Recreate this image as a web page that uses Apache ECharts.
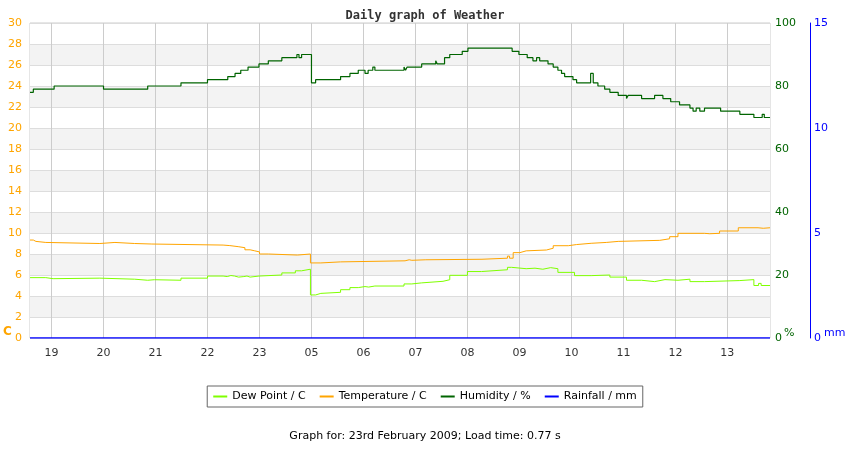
<!DOCTYPE html>
<html><head><meta charset="utf-8">
<script src="https://cdn.jsdelivr.net/npm/echarts@6/dist/echarts.min.js"></script>
<style>body{margin:0}#c{width:850px;height:450px}</style></head>
<body><div id="c"></div>
<script>
const hourTicks = [19,20,21,22,23,24,25,26,27,28,29,30,31,32];
const hourLabels = ['19','20','21','22','23','05','06','07','08','09','10','11','12','13'];
const xMin = 18.586, xMax = 32.82;

const humidity = [[18.586,78],[18.65,79],[19.05,80],[20.0,79],[20.85,80],[21.49,81],[22.0,82],[22.39,83],[22.53,84],[22.64,85],[22.78,86],[22.99,87],[23.17,88],[23.43,89],[23.72,90],[23.76,89],[23.81,90],[24.0,81],[24.08,82],[24.56,83],[24.74,84],[24.9,85],[25.03,84],[25.09,85],[25.18,86],[25.22,85],[25.78,86],[25.81,85],[25.84,86],[26.12,87],[26.39,88],[26.42,87],[26.56,89],[26.66,90],[26.9,91],[27.01,92],[27.86,91],[27.99,90],[28.15,89],[28.26,88],[28.33,89],[28.39,88],[28.55,87],[28.65,86],[28.74,85],[28.81,84],[28.87,83],[29.03,82],[29.1,81],[29.37,84],[29.42,81],[29.51,80],[29.64,79],[29.74,78],[29.9,77],[30.06,76],[30.09,77],[30.35,76],[30.6,77],[30.76,76],[30.91,75],[31.08,74],[31.28,73],[31.34,72],[31.4,73],[31.47,72],[31.56,73],[31.87,72],[32.24,71],[32.51,70],[32.67,71],[32.71,70],[32.82,70]];

const temperature = [[18.586,9.33],[18.65,9.2],[18.7,9.1],[18.89,9.0],[19.93,9.1],[20.22,9.0],[20.6,8.95],[20.93,8.85],[22.3,8.8],[22.43,8.7],[22.59,8.6],[22.72,8.4],[22.82,8.3],[22.91,8.2],[23.0,8.0],[23.17,7.9],[23.73,8.0],[23.98,7.15],[24.18,7.25],[24.56,7.35],[25.8,7.45],[25.88,7.4],[25.93,7.45],[26.2,7.5],[27.28,7.6],[27.77,7.8],[27.81,7.6],[27.88,8.13],[28.01,8.3],[28.13,8.38],[28.52,8.55],[28.65,8.79],[28.94,8.9],[29.1,9.02],[29.38,9.1],[29.67,9.2],[29.9,9.3],[30.7,9.45],[30.89,9.65],[31.05,9.97],[31.56,9.93],[31.66,9.97],[31.85,10.19],[32.21,10.5],[32.59,10.45],[32.69,10.5],[32.82,10.45]];

const dewPoint = [[18.586,5.75],[18.89,5.65],[19.03,5.7],[19.93,5.6],[20.6,5.5],[20.85,5.55],[20.98,5.5],[21.49,5.7],[22.0,5.9],[22.3,5.85],[22.38,5.95],[22.45,5.9],[22.52,5.8],[22.6,5.85],[22.7,5.9],[22.76,5.8],[22.82,5.9],[22.99,6.0],[23.43,6.2],[23.69,6.4],[23.81,6.55],[23.98,4.1],[24.08,4.25],[24.18,4.35],[24.56,4.6],[24.74,4.8],[24.9,4.9],[25.03,4.85],[25.1,4.95],[25.22,4.95],[25.78,5.15],[25.93,5.25],[26.12,5.4],[26.53,5.55],[26.66,5.97],[27.0,6.33],[27.27,6.5],[27.77,6.73],[27.85,6.6],[28.13,6.65],[28.3,6.55],[28.45,6.7],[28.6,6.6],[28.74,6.25],[29.06,5.94],[29.38,6.0],[29.74,5.8],[30.06,5.5],[30.35,5.37],[30.6,5.56],[30.8,5.5],[31.05,5.6],[31.28,5.37],[31.56,5.47],[32.24,5.56],[32.51,5.0],[32.6,5.2],[32.65,5.0],[32.82,5.0]];

const rainfall = [[18.586,0],[32.82,0]];

const chart = echarts.init(document.getElementById('c'));
const font = 'DejaVu Sans';
chart.setOption({
  animation:false,
  textStyle:{fontFamily:font},
  title:{text:'Daily graph of Weather',left:'center',top:5,textStyle:{fontFamily:'DejaVu Sans Mono',fontSize:12,fontWeight:'bold',color:'#333'}},
  grid:{left:30,right:80,top:23,bottom:112,show:true,borderColor:'#ccc',borderWidth:1,backgroundColor:'#fff'},
  legend:{bottom:43,left:'center',itemWidth:14,itemHeight:2,itemGap:14,borderColor:'#666',borderWidth:1,borderRadius:0,padding:[5,6],
    icon:'rect',textStyle:{fontSize:11,color:'#000'},
    data:['Dew Point / C','Temperature / C','Humidity / %','Rainfall / mm']},
  graphic:[
    {type:'text',left:'center',top:431,style:{text:'Graph for: 23rd February 2009; Load time: 0.77 s',font:'11px DejaVu Sans',fill:'#000'}},
    {type:'text',left:3,top:326,style:{text:'C',font:'bold 12px DejaVu Sans',fill:'#ffa500'}},
    {type:'text',left:784,top:328,style:{text:'%',font:'11px DejaVu Sans',fill:'#006400'}},
    {type:'text',left:824,top:328,style:{text:'mm',font:'11px DejaVu Sans',fill:'#0000ff'}}
  ],
  xAxis:{type:'value',min:xMin,max:xMax,
    axisLine:{show:false},
    axisTick:{show:false,customValues:hourTicks},
    axisLabel:{customValues:hourTicks,color:'#333',fontSize:11,margin:10,formatter:v=>hourLabels[hourTicks.indexOf(Math.round(v))]},
    splitLine:{show:true,lineStyle:{color:'#ccc'}}},
  yAxis:[
    {type:'value',min:0,max:30,interval:2,position:'left',
     axisLine:{show:false},axisTick:{show:false},
     axisLabel:{color:'#ffa500',fontSize:11,margin:8},
     splitLine:{lineStyle:{color:'#ddd'}},
     splitArea:{show:true,areaStyle:{color:['#ffffff','#f3f3f3']}}},
    {type:'value',min:0,max:100,interval:20,position:'right',
     axisLine:{show:false},axisTick:{show:false},
     axisLabel:{color:'#006400',fontSize:11,margin:5},splitLine:{show:false}},
    {type:'value',min:0,max:15,interval:5,position:'right',offset:40,
     axisLine:{show:true,lineStyle:{color:'#0000ff'}},axisTick:{show:false},
     axisLabel:{color:'#0000ff',fontSize:11,margin:4},splitLine:{show:false}}
  ],
  series:[
    {name:'Dew Point / C',type:'line',step:'end',yAxisIndex:0,showSymbol:false,data:dewPoint,lineStyle:{color:'#7fff00',width:1},itemStyle:{color:'#7fff00'}},
    {name:'Temperature / C',type:'line',step:'end',yAxisIndex:0,showSymbol:false,data:temperature,lineStyle:{color:'#ffa500',width:1},itemStyle:{color:'#ffa500'}},
    {name:'Humidity / %',type:'line',step:'end',yAxisIndex:1,showSymbol:false,data:humidity,lineStyle:{color:'#006400',width:1.2},itemStyle:{color:'#006400'}},
    {name:'Rainfall / mm',type:'line',yAxisIndex:2,showSymbol:false,data:rainfall,lineStyle:{color:'#0000ff',width:1.5},itemStyle:{color:'#0000ff'}}
  ]
});
</script></body></html>
